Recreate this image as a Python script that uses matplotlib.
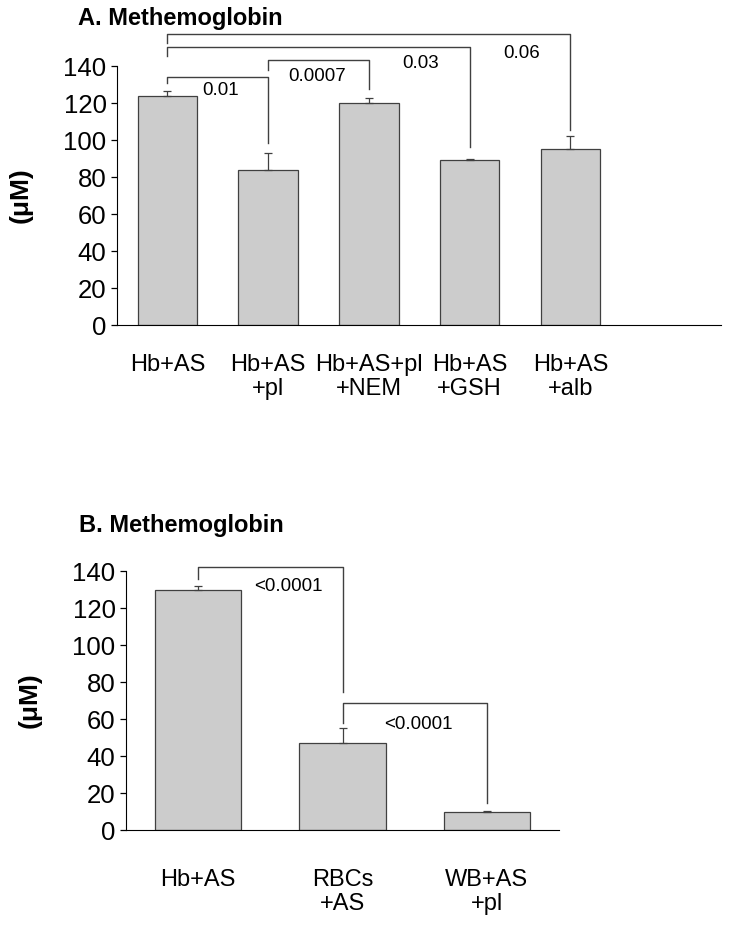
import matplotlib
matplotlib.use("Agg")
import matplotlib.pyplot as plt

plt.rcParams['font.family'] = ['Liberation Sans', 'DejaVu Sans']

# panel A data
cats_a = ["Hb+AS", "Hb+AS\n+pl", "Hb+AS+pl\n+NEM", "Hb+AS\n+GSH", "Hb+AS\n+alb"]
vals_a = [124, 84, 120, 89, 95]
errs_a = [2.5, 9, 2.5, 1, 7]

# panel B data
cats_b = ["Hb+AS", "RBCs\n+AS", "WB+AS\n+pl"]
vals_b = [129.5, 47, 10]
errs_b = [2.5, 8, 0.3]

# brackets: (left bar, right bar, top, left end, right end, text, text x, text y)
brk_a = [
    (0, 1, 134, 131, 98.5, "0.01", 0.35, 127),
    (1, 2, 143, 138, 127.5, "0.0007", 1.2, 134.6),
    (0, 3, 150.4, 145.4, 96, "0.03", 2.33, 141.6),
    (0, 4, 157.1, 152.3, 105.4, "0.06", 3.33, 147),
]
brk_b = [
    (0, 1, 142, 135.5, 74.8, "<0.0001", 0.39, 131.5),
    (1, 2, 68.4, 58, 14.4, "<0.0001", 1.29, 57),
]

fig = plt.figure(figsize=(7.29, 9.25), dpi=100)


def panel(ax, cats, vals, errs, brk, width, xlim, pad, lsp):
    x = list(range(len(cats)))
    ax.bar(x, vals, width=width, color="#cccccc", edgecolor="#404040", linewidth=0.9)
    ax.errorbar(x, vals, yerr=[[0] * len(errs), errs], fmt="none", ecolor="#404040",
                elinewidth=0.9, capsize=3, capthick=0.9)
    for i, j, top, yl, yr, txt, tx, ty in brk:
        ax.plot([i, i, j, j], [yl, top, top, yr], color="#404040", lw=1, clip_on=False)
        ax.text(tx, ty, txt, fontsize=13.5, ha="left", va="center")
    ax.set_xlim(*xlim)
    ax.set_ylim(0, 140)
    ax.set_yticks(range(0, 141, 20))
    ax.set_xticks(x)
    ax.set_xticklabels(cats, fontsize=17, linespacing=lsp)
    ax.tick_params(axis="x", length=0, pad=pad)
    ax.tick_params(axis="y", labelsize=18.5, length=4, width=0.9)
    ax.spines["top"].set_visible(False)
    ax.spines["right"].set_visible(False)


ax1 = fig.add_axes([117 / 729, 0.6486, 604.5 / 729, 0.28])
panel(ax1, cats_a, vals_a, errs_a, brk_a, 0.59, (-0.5, 5.5), 21, 1.1)
ax1.text(-0.159, 0.5, "(\u03bcM)", transform=ax1.transAxes, rotation=90,
         ha="center", va="center", fontsize=19, fontweight="bold")

ax2 = fig.add_axes([126 / 729, 0.1027, 433 / 729, 0.28])
panel(ax2, cats_b, vals_b, errs_b, brk_b, 0.6, (-0.5, 2.5), 28, 1.15)
ax2.text(-0.222, 0.5, "(\u03bcM)", transform=ax2.transAxes, rotation=90,
         ha="center", va="center", fontsize=19, fontweight="bold")

fig.text(78 / 729, 1 - 25 / 925, "A. Methemoglobin", fontsize=17, fontweight="bold", va="baseline")
fig.text(79 / 729, 1 - 532 / 925, "B. Methemoglobin", fontsize=17, fontweight="bold", va="baseline")

fig.savefig("out.png", dpi=100)
